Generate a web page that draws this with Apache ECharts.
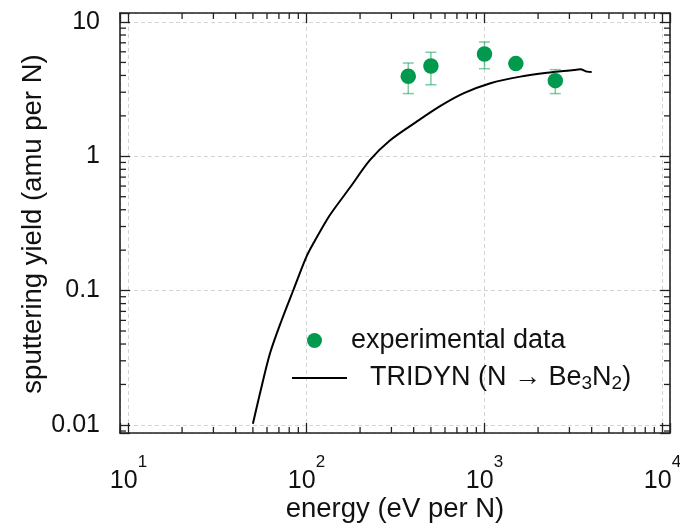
<!DOCTYPE html>
<html><head><meta charset="utf-8">
<script src="https://cdn.jsdelivr.net/npm/echarts@6/dist/echarts.min.js"></script>
<style>html,body{margin:0;padding:0;background:#fff}#c{width:680px;height:529px}</style>
</head><body><div id="c"></div>
<script>
// ---- data ----
const xTickExponents = ['1', '2', '3', '4'];
const yTickLabels = ['0.01', '0.1', '1', '10'];
const xTitle = 'energy (eV per N)';
const yTitle = 'sputtering yield (amu per N)';

const expEnergy  = [373, 500, 1000, 1500, 2500];
const expYield   = [3.94, 4.70, 5.78, 4.90, 3.66];
const expErrLow  = [2.93, 3.41, 4.49, 4.60, 2.93];
const expErrHigh = [4.95, 5.95, 7.10, 5.20, 4.42];

const curveEnergy = [50, 54.8, 62.4, 72.6, 84.4, 100, 112, 130, 142, 176, 227, 294, 416, 566, 766, 1080, 1590, 2250, 3180, 3450, 3770, 4000];
const curveYield  = [0.0102, 0.0172, 0.0341, 0.0604, 0.101, 0.179, 0.238, 0.336, 0.400, 0.588, 0.935, 1.31, 1.81, 2.37, 2.95, 3.50, 3.92, 4.19, 4.39, 4.45, 4.27, 4.24];

const minorMultipliers = [2, 3, 4, 5, 6, 7, 8, 9];
const xDecades = [1, 10, 100, 1000];
const yDecades = [0.001, 0.01, 0.1, 1, 10];

const xMin = 8.96, xMax = 11020, yMin = 0.0087, yMax = 11.67;

// ---- build ----
const FONT = '"Liberation Sans", Arial, Helvetica, sans-serif';
const INK = '#111';
const GREEN = '#00994d';

const xMinor = [];
xDecades.forEach(d => minorMultipliers.forEach(m => { const v = d * m; if (v > xMin && v < xMax) xMinor.push([v, 1]); }));
const yMinor = [];
yDecades.forEach(d => minorMultipliers.forEach(m => { const v = d * m; if (v > yMin && v < yMax) yMinor.push([100, v]); }));

const curveData = curveEnergy.map((e, i) => [e, curveYield[i]]);
const expData = expEnergy.map((e, i) => [e, expYield[i]]);
const errData = expEnergy.map((e, i) => [e, expErrLow[i], expErrHigh[i]]);

function isPow10(v) { const e = Math.log10(v); const r = Math.round(e); return Math.abs(e - r) < 1e-6 ? r : null; }
function xLabelFmt(v) { const r = isPow10(v); if (r === null) return ''; const i = xTickExponents.indexOf(String(r)); return i < 0 ? '' : '{b|10}{s|' + xTickExponents[i] + '}'; }
function yLabelFmt(v) { const r = isPow10(v); if (r === null) return ''; return yTickLabels[r + 2] || ''; }

const tickStyle = { color: '#222', width: 1.3 };
const lineStyleAxis = { color: '#222', width: 1.6 };

function xMinorRender(params, api) {
  const x = api.coord([api.value(0), 1])[0];
  const cs = params.coordSys;
  const st = { stroke: '#222', lineWidth: 1.3 };
  return { type: 'group', children: [
    { type: 'line', shape: { x1: x, y1: cs.y + cs.height, x2: x, y2: cs.y + cs.height - 6 }, style: st },
    { type: 'line', shape: { x1: x, y1: cs.y, x2: x, y2: cs.y + 6 }, style: st }
  ]};
}
function yMinorRender(params, api) {
  const y = api.coord([100, api.value(1)])[1];
  const cs = params.coordSys;
  const st = { stroke: '#222', lineWidth: 1.3 };
  return { type: 'group', children: [
    { type: 'line', shape: { x1: cs.x, y1: y, x2: cs.x + 6, y2: y }, style: st },
    { type: 'line', shape: { x1: cs.x + cs.width, y1: y, x2: cs.x + cs.width - 6, y2: y }, style: st }
  ]};
}
function errRender(params, api) {
  const xv = api.value(0);
  const pLo = api.coord([xv, api.value(1)]);
  const pHi = api.coord([xv, api.value(2)]);
  const w = 5.5;
  const st = { stroke: 'rgba(0,150,75,0.5)', lineWidth: 1.5 };
  return { type: 'group', children: [
    { type: 'line', shape: { x1: pLo[0], y1: pLo[1], x2: pHi[0], y2: pHi[1] }, style: st },
    { type: 'line', shape: { x1: pLo[0] - w, y1: pLo[1], x2: pLo[0] + w, y2: pLo[1] }, style: st },
    { type: 'line', shape: { x1: pHi[0] - w, y1: pHi[1], x2: pHi[0] + w, y2: pHi[1] }, style: st }
  ]};
}

const chart = echarts.init(document.getElementById('c'), null, { renderer: 'canvas' });
chart.setOption({
  animation: false,
  backgroundColor: '#fff',
  grid: { left: 120, right: 10, top: 13, bottom: 96, containLabel: false, outerBoundsMode: 'none' },
  graphic: [
    { type: 'text', x: 33, y: 224, rotation: Math.PI / 2, silent: true,
      style: { text: yTitle, fill: INK, font: '27.5px ' + FONT, textAlign: 'center', textVerticalAlign: 'middle', verticalAlign: 'middle' } }
  ],
  legend: [
    { data: ['experimental data'], left: 302, top: 322, icon: 'circle', itemWidth: 15, itemHeight: 15,
      selectedMode: false,
      textStyle: { fontSize: 27, fontFamily: FONT, color: INK, padding: [0, 0, 0, 24] } },
    { data: ['TRIDYN'], left: 287, top: 358, icon: 'rect', itemWidth: 55, itemHeight: 2, selectedMode: false,
      formatter: () => 'TRIDYN (N \u2192 Be{sub|3}N{sub|2})',
      textStyle: { fontSize: 27, lineHeight: 30, fontFamily: FONT, color: INK, padding: [0, 0, 0, 18],
        rich: { sub: { fontSize: 19, lineHeight: 8, verticalAlign: 'bottom', fontFamily: FONT, color: INK } } } }
  ],
  xAxis: [
    { type: 'log', logBase: 10, min: xMin, max: xMax, position: 'bottom',
      axisLine: { show: true, onZero: false, lineStyle: lineStyleAxis },
      axisTick: { show: true, inside: true, length: 10, lineStyle: tickStyle },
      minorTick: { show: false },
      splitLine: { show: true, lineStyle: { color: '#d4d4d4', type: [4, 3], width: 1 } },
      axisLabel: { margin: 21, formatter: xLabelFmt, color: INK, fontFamily: FONT, fontSize: 25,
        rich: { b: { fontSize: 25, verticalAlign: 'bottom', fontFamily: FONT, color: INK },
                s: { fontSize: 17, padding: [0, 0, 23, 0], verticalAlign: 'top', fontFamily: FONT, color: INK } } },
      name: xTitle, nameLocation: 'middle', nameGap: 62, nameMoveOverlap: false,
      nameTextStyle: { fontSize: 27.5, fontFamily: FONT, color: INK } },
    { type: 'log', logBase: 10, min: xMin, max: xMax, position: 'top',
      axisLine: { show: true, onZero: false, lineStyle: lineStyleAxis },
      axisTick: { show: true, inside: true, length: 10, lineStyle: tickStyle },
      axisLabel: { show: false }, splitLine: { show: false } }
  ],
  yAxis: [
    { type: 'log', logBase: 10, min: yMin, max: yMax, position: 'left',
      axisLine: { show: true, onZero: false, lineStyle: lineStyleAxis },
      axisTick: { show: true, inside: true, length: 10, lineStyle: tickStyle },
      minorTick: { show: false },
      splitLine: { show: true, lineStyle: { color: '#d4d4d4', type: [4, 3], width: 1 } },
      axisLabel: { margin: 20, formatter: yLabelFmt, fontSize: 25, color: INK, fontFamily: FONT } },
    { type: 'log', logBase: 10, min: yMin, max: yMax, position: 'right',
      axisLine: { show: true, onZero: false, lineStyle: lineStyleAxis },
      axisTick: { show: true, inside: true, length: 10, lineStyle: tickStyle },
      axisLabel: { show: false }, splitLine: { show: false } }
  ],
  series: [
    { type: 'custom', name: 'xminor', silent: true, renderItem: xMinorRender, data: xMinor, encode: { x: 0, y: 1 }, z: 1 },
    { type: 'custom', name: 'yminor', silent: true, renderItem: yMinorRender, data: yMinor, encode: { x: 0, y: 1 }, z: 1 },
    { type: 'line', name: 'TRIDYN', data: curveData, showSymbol: false, symbol: 'none', smooth: 0.3,
      lineStyle: { color: '#000', width: 2 }, itemStyle: { color: '#000' }, z: 3 },
    { type: 'custom', name: 'errors', silent: true, renderItem: errRender, data: errData, encode: { x: 0, y: [1, 2] }, z: 4 },
    { type: 'scatter', name: 'experimental data', data: expData, symbol: 'circle', symbolSize: 15.5,
      itemStyle: { color: GREEN, opacity: 1 }, z: 5 }
  ]
});
</script>
</body></html>
